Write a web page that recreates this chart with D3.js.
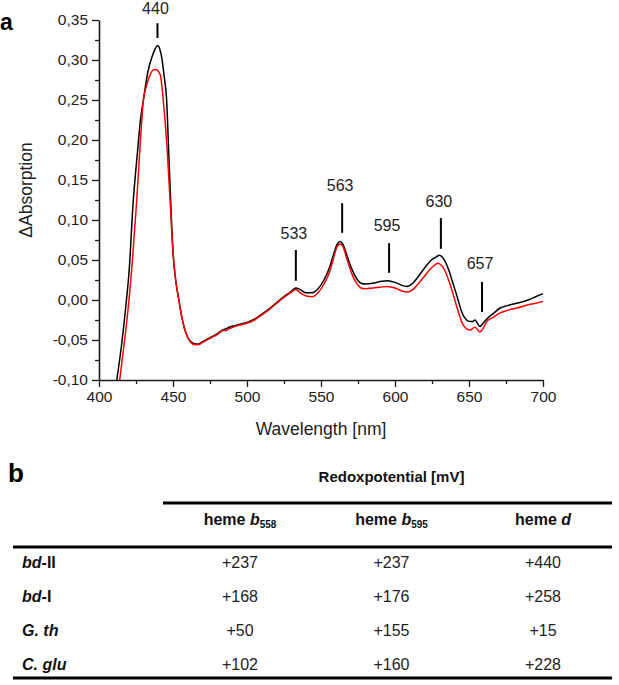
<!DOCTYPE html>
<html>
<head>
<meta charset="utf-8">
<script src="https://cdn.jsdelivr.net/npm/d3@7"></script>
<style>
  html, body { margin: 0; padding: 0; background: #fff; }
  svg { display: block; font-family: "Liberation Sans", Arial, sans-serif; }
</style>
</head>
<body>
<svg id="fig" width="619" height="685"></svg>
<script>
// ---------------- DATA ----------------
// Spectrum (wavelength nm, ΔAbsorption) – black trace
const blackSpectrum = [
  [412,-0.10],[415,-0.06],[418,-0.01],[420.5,0.04],[423,0.12],[426,0.185],[428,0.225],[430,0.25],
  [433,0.285],[436,0.305],[438,0.314],[439.5,0.318],[441,0.314],[442.5,0.302],[444,0.28],[445.7,0.25],
  [447,0.19],[448.4,0.125],[450,0.06],[452,0.022],[454,0.0],[456,-0.022],[459.5,-0.045],[462,-0.052],
  [465,-0.055],[467,-0.055],[470,-0.052],[475,-0.047],[480,-0.042],[484,-0.037],[486,-0.036],[488,-0.034],
  [492,-0.032],[496,-0.030],[500,-0.028],[505,-0.024],[509,-0.019],[515,-0.011],[522,0.0],[527,0.007],
  [530,0.011],[533,0.015],[536,0.013],[540,0.009],[544,0.009],[548,0.014],[552,0.025],[556,0.042],
  [559,0.060],[561,0.070],[563,0.073],[565,0.069],[568,0.053],[571,0.038],[574,0.027],[577,0.021],
  [580,0.020],[585,0.021],[590,0.023],[595,0.024],[600,0.022],[605,0.018],[608,0.017],[612,0.021],
  [616,0.030],[620,0.040],[624,0.049],[628,0.054],[630,0.056],[633,0.051],[636,0.039],[639,0.022],
  [642,0.004],[646,-0.019],[650.7,-0.027],[652.5,-0.027],[654,-0.025],[657.4,-0.033],[660,-0.028],
  [663,-0.022],[667,-0.016],[671,-0.010],[676,-0.007],[680,-0.005],[684.5,-0.003],[690,0.000],
  [695,0.004],[700,0.008]
];
// red trace
const redSpectrum = [
  [414,-0.10],[417,-0.055],[420,-0.005],[423,0.06],[425.5,0.125],[428,0.20],[430,0.25],[432,0.267],
  [434,0.279],[436.7,0.2875],[438.5,0.288],[440,0.286],[441.5,0.281],[443.4,0.25],[446,0.19],[448,0.125],
  [450,0.06],[452,0.022],[454,0.0],[456,-0.022],[459.5,-0.045],[462,-0.053],[465,-0.056],[467,-0.056],
  [470,-0.053],[475,-0.048],[480,-0.043],[484,-0.038],[486,-0.038],[488,-0.036],[492,-0.033],[496,-0.031],
  [500,-0.029],[505,-0.025],[509,-0.020],[515,-0.012],[522,-0.001],[527,0.006],[530,0.010],[533,0.013],
  [536,0.009],[540,0.005],[544,0.004],[548,0.009],[552,0.020],[556,0.036],[559,0.056],[561,0.067],
  [563,0.070],[565,0.066],[568,0.048],[571,0.032],[574,0.021],[577,0.015],[580,0.014],[585,0.015],
  [590,0.016],[595,0.017],[600,0.015],[605,0.011],[608,0.010],[612,0.013],[616,0.021],[620,0.030],
  [624,0.039],[627,0.044],[629,0.046],[632,0.042],[635,0.031],[638,0.015],[642,-0.010],[646,-0.031],
  [650.7,-0.0375],[654,-0.034],[657.4,-0.040],[659,-0.037],[662,-0.027],[666,-0.022],[671,-0.016],
  [676,-0.013],[680,-0.011],[684.5,-0.009],[690,-0.006],[695,-0.004],[700,-0.002]
];
// Peak annotations
const peakLabels   = ["440", "533", "563", "595", "630", "657"];
const peakWl       = [439.5, 533, 564.3, 596, 631, 658.8];
const peakMarkTop  = [0.346, 0.0625, 0.121, 0.071, 0.1025, 0.0225];
const peakMarkBot  = [0.3275, 0.024, 0.084, 0.034, 0.064, -0.015];
const peakLabelY   = [0.357, 0.076, 0.136, 0.086, 0.116, 0.039];

// Axis ticks
const xTicks = [400, 450, 500, 550, 600, 650, 700];
const xMinor = [425, 475, 525, 575, 625, 675];
const yTicks = [-0.10, -0.05, 0.00, 0.05, 0.10, 0.15, 0.20, 0.25, 0.30, 0.35];
const yMinor = [-0.075, -0.025, 0.025, 0.075, 0.125, 0.175, 0.225, 0.275, 0.325];

// Table
const tableTitle = "Redoxpotential [mV]";
const columnHeads = [["heme ", "b", "558"], ["heme ", "b", "595"], ["heme ", "d", ""]];
const rowLabels = [["bd", "-II"], ["bd", "-I"], ["G. th", ""], ["C. glu", ""]];
const tableValues = [
  ["+237", "+237", "+440"],
  ["+168", "+176", "+258"],
  ["+50",  "+155", "+15"],
  ["+102", "+160", "+228"]
];

// ---------------- DRAW ----------------
const svg = d3.select("#fig");
const x = d3.scaleLinear().domain([400, 700]).range([99, 543]);
const y = d3.scaleLinear().domain([-0.10, 0.35]).range([380, 20]);
const loc = d3.formatLocale({decimal: ",", thousands: ".", grouping: [3], currency: ["", ""], minus: "-"});
const fmt = loc.format(".2f");
const axisColor = "#1a1a1a";

// panel label a
svg.append("text").attr("x", 0).attr("y", 30).attr("font-size", 23).attr("font-weight", "bold")
  .attr("fill", "#000").text("a");

// clip for curves
svg.append("clipPath").attr("id", "plotclip").append("rect")
  .attr("x", 99).attr("y", 0).attr("width", 444).attr("height", 380);

const line = d3.line().x(d => x(d[0])).y(d => y(d[1])).curve(d3.curveMonotoneX);
const g = svg.append("g").attr("clip-path", "url(#plotclip)");
g.append("path").datum(blackSpectrum).attr("d", line).attr("fill", "none")
  .attr("stroke", "#000").attr("stroke-width", 1.5);
g.append("path").datum(redSpectrum).attr("d", line).attr("fill", "none")
  .attr("stroke", "#ff0000").attr("stroke-width", 1.5);

// axes
function styleAxis(sel) {
  sel.select(".domain").attr("stroke", axisColor).attr("stroke-width", 1.6);
  sel.selectAll(".tick line").attr("stroke", axisColor).attr("stroke-width", 1.3);
  sel.selectAll(".tick text").attr("fill", "#222").attr("font-size", 15.5)
    .attr("font-family", "'Liberation Sans', Arial, sans-serif");
}
const gx = svg.append("g").attr("transform", "translate(0,380)")
  .call(d3.axisBottom(x).tickValues(xTicks).tickSize(7).tickSizeOuter(0).tickPadding(4).tickFormat(d3.format("d")));
styleAxis(gx);
const gxm = svg.append("g").attr("transform", "translate(0,380)")
  .call(d3.axisBottom(x).tickValues(xMinor).tickSize(4).tickSizeOuter(0).tickFormat(""));
gxm.select(".domain").remove();
gxm.selectAll(".tick line").attr("stroke", axisColor).attr("stroke-width", 1.3);

const gy = svg.append("g").attr("transform", "translate(99,0)")
  .call(d3.axisLeft(y).tickValues(yTicks).tickSize(7).tickSizeOuter(0).tickPadding(4).tickFormat(fmt));
styleAxis(gy);
const gym = svg.append("g").attr("transform", "translate(99,0)")
  .call(d3.axisLeft(y).tickValues(yMinor).tickSize(4).tickSizeOuter(0).tickFormat(""));
gym.select(".domain").remove();
gym.selectAll(".tick line").attr("stroke", axisColor).attr("stroke-width", 1.3);

// axis titles
svg.append("text").attr("x", 321).attr("y", 435).attr("text-anchor", "middle")
  .attr("font-size", 17.5).attr("fill", "#222").text("Wavelength [nm]");
svg.append("text").attr("transform", "translate(32,190) rotate(-90)").attr("text-anchor", "middle")
  .attr("font-size", 17.5).attr("fill", "#222").text("\u0394Absorption");

// peak markers
peakLabels.forEach((lab, i) => {
  svg.append("line").attr("x1", x(peakWl[i])).attr("x2", x(peakWl[i]))
    .attr("y1", y(peakMarkTop[i])).attr("y2", y(peakMarkBot[i]))
    .attr("stroke", "#000").attr("stroke-width", 2);
  svg.append("text").attr("x", x(peakWl[i]) - 2).attr("y", y(peakLabelY[i]))
    .attr("text-anchor", "middle").attr("font-size", 16).attr("fill", "#222").text(lab);
});

// ---------------- TABLE ----------------
svg.append("text").attr("x", 8).attr("y", 482).attr("font-size", 26).attr("font-weight", "bold")
  .attr("fill", "#000").text("b");

const colX = d3.scalePoint().domain([0, 1, 2]).range([240, 543]);
const rowY = d3.scalePoint().domain([0, 1, 2, 3]).range([568, 670]);

svg.append("text").attr("x", colX(1)).attr("y", 482).attr("text-anchor", "middle")
  .attr("font-size", 15).attr("font-weight", "bold").attr("fill", "#111").text(tableTitle);

svg.append("line").attr("x1", 163).attr("x2", 612).attr("y1", 503).attr("y2", 503)
  .attr("stroke", "#000").attr("stroke-width", 3);
svg.append("line").attr("x1", 13).attr("x2", 612).attr("y1", 547).attr("y2", 547)
  .attr("stroke", "#000").attr("stroke-width", 3);
svg.append("line").attr("x1", 13).attr("x2", 612).attr("y1", 678).attr("y2", 678)
  .attr("stroke", "#000").attr("stroke-width", 3);

columnHeads.forEach((h, i) => {
  const t = svg.append("text").attr("x", colX(i)).attr("y", 525).attr("text-anchor", "middle")
    .attr("font-size", 16).attr("font-weight", "bold").attr("fill", "#111");
  t.append("tspan").text(h[0]);
  t.append("tspan").attr("font-style", "italic").text(h[1]);
  if (h[2]) t.append("tspan").attr("font-size", 10).attr("dy", 3).text(h[2]);
});

rowLabels.forEach((r, i) => {
  const t = svg.append("text").attr("x", 22).attr("y", rowY(i))
    .attr("font-size", 16).attr("font-weight", "bold").attr("fill", "#111");
  t.append("tspan").attr("font-style", "italic").text(r[0]);
  if (r[1]) t.append("tspan").text(r[1]);
});

tableValues.forEach((row, i) => {
  row.forEach((v, j) => {
    svg.append("text").attr("x", colX(j)).attr("y", rowY(i)).attr("text-anchor", "middle")
      .attr("font-size", 16).attr("fill", "#222").text(v);
  });
});
</script>
</body>
</html>
